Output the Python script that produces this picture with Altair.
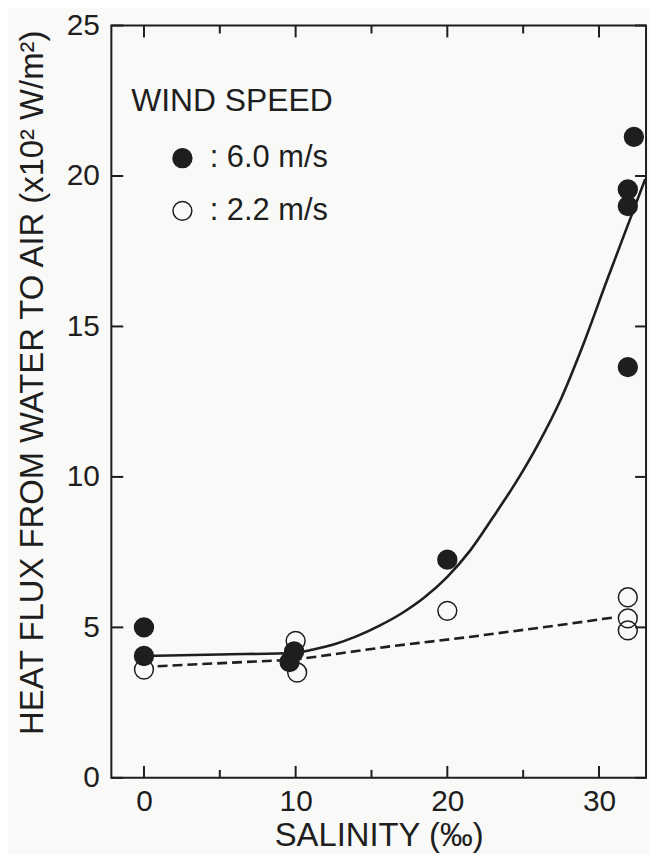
import altair as alt
import pandas as pd

# ---- data ----
wind_levels = ["6.0 m/s", "2.2 m/s"]

fast_sal = [0, 0, 9.9, 9.6, 20.0, 32.3, 31.9, 31.9, 31.9]
fast_flux = [5.0, 4.05, 4.2, 3.85, 7.25, 21.3, 19.55, 19.0, 13.65]

slow_sal = [0, 10.0, 10.1, 20.0, 31.9, 31.9, 31.9]
slow_flux = [3.6, 4.55, 3.5, 5.55, 6.0, 5.3, 4.9]

fit_fast_sal = [0, 5, 10, 11, 12.5, 14, 15.5, 17, 18.5, 20, 21.5, 23, 24.5, 26, 27.5, 29, 30.5, 32, 33.05]
fit_fast_flux = [4.05, 4.1, 4.15, 4.25, 4.43, 4.7, 5.05, 5.47, 6.0, 6.68, 7.55, 8.65, 9.8, 11.1, 12.6, 14.45, 16.5, 18.5, 19.9]

fit_slow_sal = [0.9, 10.0, 10.7, 16.1, 21.6, 27.3, 31.1]
fit_slow_flux = [3.71, 3.93, 3.98, 4.36, 4.69, 5.07, 5.34]

x_major = [0, 10, 20, 30]
x_minor = [5, 15, 25]
y_ticks = [0, 5, 10, 15, 20, 25]

# ---- tables ----
points = pd.DataFrame({
    "salinity": slow_sal + fast_sal,
    "flux": slow_flux + fast_flux,
    "wind": [wind_levels[1]] * len(slow_sal) + [wind_levels[0]] * len(fast_sal),
})
fit_fast = pd.DataFrame({"salinity": fit_fast_sal, "flux": fit_fast_flux})
fit_slow = pd.DataFrame({"salinity": fit_slow_sal, "flux": fit_slow_flux})
xmaj = pd.DataFrame({"salinity": x_major})
xmin = pd.DataFrame({"salinity": x_minor})
yt = pd.DataFrame({"flux": y_ticks})

W, H = 538, 757
FONT = "Liberation Sans"
INK = "#1e1e1e"

xscale = alt.Scale(domain=[-2.15, 33.1], nice=False, zero=False)
yscale = alt.Scale(domain=[0, 25], nice=False, zero=False)

xaxis = alt.Axis(values=x_major, ticks=False, tickSize=0, domain=False, grid=False,
                 labelFont=FONT, labelFontSize=30, labelColor=INK, labelPadding=9,
                 titleFont=FONT, titleFontSize=33, titleFontWeight="normal",
                 titleColor=INK, titlePadding=3)
yaxis = alt.Axis(values=y_ticks, ticks=False, tickSize=0, domain=False, grid=False,
                 labelFont=FONT, labelFontSize=30, labelColor=INK, labelPadding=12,
                 titleFont=FONT, titleFontSize=33, titleFontWeight="normal",
                 titleColor=INK, titlePadding=17, titleY=359)

X = alt.X("salinity:Q", scale=xscale, axis=xaxis, title="SALINITY (‰)")
Y = alt.Y("flux:Q", scale=yscale, axis=yaxis, title="HEAT FLUX FROM WATER TO AIR (x10² W/m²)")

tick_style = dict(color=INK, strokeWidth=2)

bot_major = alt.Chart(xmaj).mark_rule(**tick_style).encode(x=X, y=alt.value(H), y2=alt.value(H - 12))
bot_minor = alt.Chart(xmin).mark_rule(**tick_style).encode(x=X, y=alt.value(H), y2=alt.value(H - 8))
top_major = alt.Chart(xmaj).mark_rule(**tick_style).encode(x=X, y=alt.value(0), y2=alt.value(12))
top_minor = alt.Chart(xmin).mark_rule(**tick_style).encode(x=X, y=alt.value(0), y2=alt.value(8))
left_t = alt.Chart(yt).mark_rule(**tick_style).encode(y=Y, x=alt.value(0), x2=alt.value(12))
right_t = alt.Chart(yt).mark_rule(**tick_style).encode(y=Y, x=alt.value(W), x2=alt.value(W - 11))

line_fast = alt.Chart(fit_fast).mark_line(color=INK, strokeWidth=2.6, interpolate="monotone").encode(x=X, y=Y)
line_slow = alt.Chart(fit_slow).mark_line(color=INK, strokeWidth=2.6, strokeDash=[10, 5]).encode(x=X, y=Y)

pts = alt.Chart(points).mark_circle(size=360, stroke=INK, strokeWidth=1.5, opacity=1).encode(
    x=X, y=Y,
    fill=alt.Fill("wind:N", scale=alt.Scale(domain=wind_levels, range=[INK, "transparent"]),
                  sort=wind_levels,
                  legend=alt.Legend(
                      title="WIND SPEED", orient="none", legendX=20, legendY=61,
                      titleFont=FONT, titleFontSize=32, titleFontWeight="normal",
                      titleColor=INK, titlePadding=25, titleLimit=500,
                      labelFont=FONT, labelFontSize=31, labelColor=INK, labelLimit=500,
                      labelExpr="':  ' + datum.label",
                      labelOffset=12, symbolOffset=36, rowPadding=21,
                      symbolType="circle", symbolSize=360,
                      symbolStrokeColor=INK, symbolStrokeWidth=1.5,
                  )),
)

chart = alt.layer(
    bot_major, bot_minor, top_major, top_minor, left_t, right_t,
    line_slow, line_fast, pts,
).properties(
    width=W, height=H,
    autosize=alt.AutoSizeParams(type="none"),
    padding={"left": 104, "top": 15, "right": 4, "bottom": 74},
    background="#f9f9f7",
).configure_view(stroke=INK, strokeWidth=2)

chart.save("out.html", embed_options={"renderer": "svg", "actions": False})
